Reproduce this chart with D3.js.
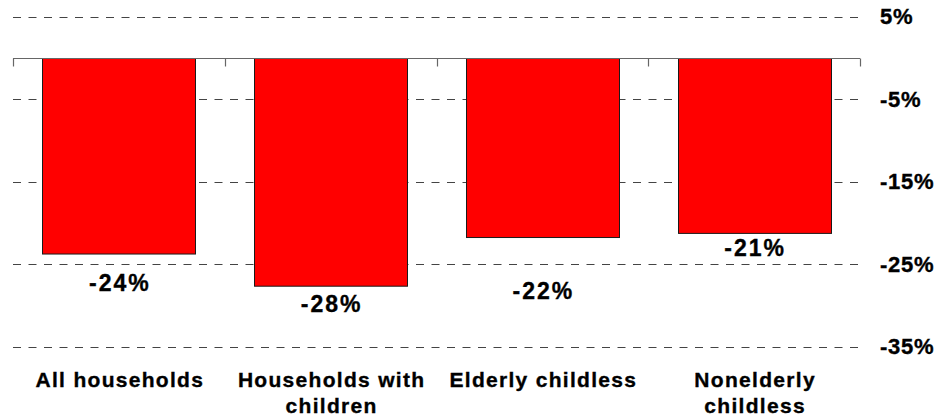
<!DOCTYPE html>
<html lang="en">
<head>
    <meta charset="UTF-8">
    <title>Change by household type</title>
    <script src="https://d3js.org/d3.v7.min.js"></script>
    <style>
        body { margin: 0; background: #fff; }
        text { font-family: "Liberation Sans", Arial, sans-serif; font-weight: bold; fill: #000; stroke: #000; stroke-width: 0.35px; }
    </style>
</head>
<body>
    <script>
        const categories = [["All households"], ["Households with", "children"], ["Elderly childless"], ["Nonelderly", "childless"]];
        const values = [-23.7, -27.6, -21.7, -21.2];
        const valueLabels = ["-24%", "-28%", "-22%", "-21%"];
        const tickValues = [5, -5, -15, -25, -35];
        const tickLabels = ["5%", "-5%", "-15%", "-25%", "-35%"];

        // label offsets below bar end (layout only)
        const labelDy = [38, 26, 62, 23];

        const width = 942;
        const height = 418;
        const left = 13, right = 860;

        const svg = d3.select("body").append("svg")
            .attr("width", width)
            .attr("height", height);

        const x = d3.scaleBand()
            .domain(d3.range(categories.length))
            .range([left, right])
            .paddingInner(0.2775)
            .paddingOuter(0.13875);

        const y = d3.scaleLinear()
            .domain([5, -35])
            .range([16.7, 346.7]);

        // dashed gridlines
        svg.selectAll("line.grid").data(tickValues).enter().append("line")
            .attr("class", "grid")
            .attr("x1", left)
            .attr("x2", right)
            .attr("y1", d => Math.round(y(d)) + 0.5)
            .attr("y2", d => Math.round(y(d)) + 0.5)
            .attr("stroke", "#444")
            .attr("stroke-width", 1)
            .attr("stroke-dasharray", "8,7.5");

        // bars
        svg.selectAll("rect.bar").data(values).enter().append("rect")
            .attr("class", "bar")
            .attr("x", (d, i) => Math.round(x(i)) + 0.5)
            .attr("y", Math.round(y(0)) + 0.5)
            .attr("width", Math.round(x.bandwidth()))
            .attr("height", d => y(d) - y(0))
            .attr("fill", "#ff0000")
            .attr("stroke", "#1a1a1a")
            .attr("stroke-width", 1);

        // zero line with category separator ticks
        const y0 = Math.round(y(0)) + 0.5;
        svg.append("line")
            .attr("x1", left).attr("x2", right)
            .attr("y1", y0).attr("y2", y0)
            .attr("stroke", "#666").attr("stroke-width", 1.2);
        const sepTicks = d3.range(categories.length + 1).map(i => left + i * x.step());
        svg.selectAll("line.sep").data(sepTicks).enter().append("line")
            .attr("class", "sep")
            .attr("x1", d => Math.round(d) + 0.5)
            .attr("x2", d => Math.round(d) + 0.5)
            .attr("y1", y0)
            .attr("y2", y0 + 8)
            .attr("stroke", "#666")
            .attr("stroke-width", 1.2);

        // value labels
        svg.selectAll("text.val").data(values).enter().append("text")
            .attr("class", "val")
            .attr("x", (d, i) => x(i) + x.bandwidth() / 2 + 1)
            .attr("y", (d, i) => y(d) + labelDy[i])
            .attr("text-anchor", "middle")
            .style("font-size", "23px")
            .style("letter-spacing", "2px")
            .text((d, i) => valueLabels[i]);

        // y tick labels on the right
        svg.selectAll("text.ytick").data(tickValues).enter().append("text")
            .attr("class", "ytick")
            .attr("x", 880)
            .attr("y", d => y(d) + 7.7)
            .style("font-size", "22px")
            .style("letter-spacing", "0.7px")
            .text((d, i) => tickLabels[i]);

        // category labels
        const cat = svg.selectAll("text.cat").data(categories).enter().append("text")
            .attr("class", "cat")
            .attr("text-anchor", "middle")
            .style("font-size", "21px")
            .style("letter-spacing", "1.3px");
        cat.selectAll("tspan").data((d, i) => d.map(s => ({ s, i }))).enter().append("tspan")
            .attr("x", d => x(d.i) + x.bandwidth() / 2 + 1)
            .attr("y", (d, j) => 387 + j * 26)
            .text(d => d.s);
    </script>
</body>
</html>
